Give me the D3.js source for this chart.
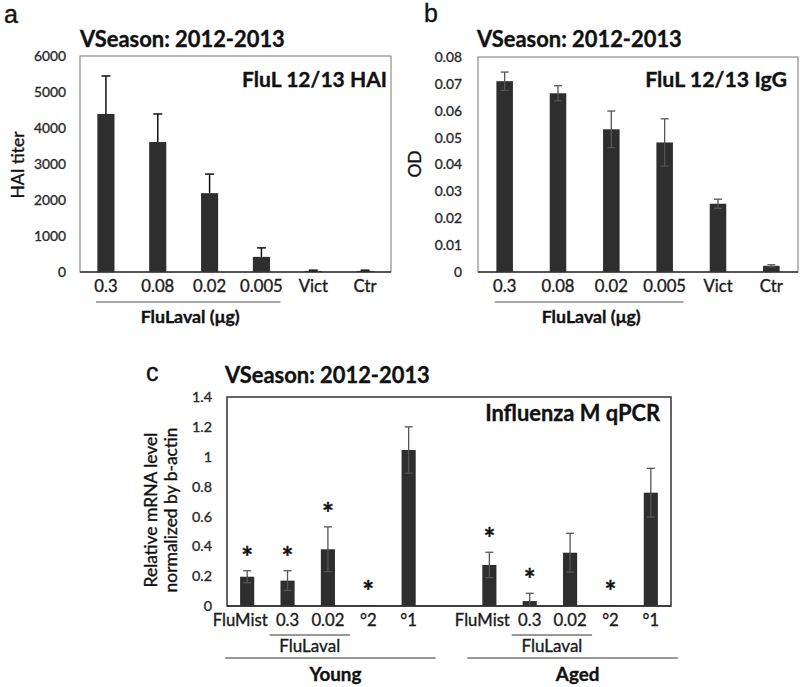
<!DOCTYPE html>
<html>
<head>
<meta charset="utf-8">
<script src="https://cdn.jsdelivr.net/npm/d3@7"></script>
<style>
  html, body { margin: 0; padding: 0; background: #fff; }
  svg { display: block; font-family: Lato, "Open Sans", sans-serif; }
</style>
</head>
<body>
<svg id="chart" width="800" height="687"></svg>
<script>
// ---------- DATA ----------
const seasonTitle = "VSeason: 2012-2013";
const doseCategories = ["0.3", "0.08", "0.02", "0.005", "Vict", "Ctr"];

// Panel a: HAI titer (mean, +SE only)
const haiValues = [4390, 3610, 2190, 420, 30, 30];
const haiErrors = [1055, 780, 530, 250, 20, 20];
const haiTicks = [0, 1000, 2000, 3000, 4000, 5000, 6000];
const haiTickLabels = ["0", "1000", "2000", "3000", "4000", "5000", "6000"];

// Panel b: IgG OD (mean ± SE)
const iggValues = [0.0710, 0.0665, 0.0531, 0.0482, 0.0254, 0.0023];
const iggErrors = [0.0034, 0.0028, 0.0068, 0.0088, 0.0017, 0.0004];
const iggTicks = [0, 0.01, 0.02, 0.03, 0.04, 0.05, 0.06, 0.07, 0.08];
const iggTickLabels = ["0", "0.01", "0.02", "0.03", "0.04", "0.05", "0.06", "0.07", "0.08"];

// Panel c: Influenza M qPCR (mean ± SE), young and aged groups separated by an empty slot
const qpcrCategories = ["Y-FluMist", "Y-0.3", "Y-0.02", "Y-2", "Y-1", "gap", "A-FluMist", "A-0.3", "A-0.02", "A-2", "A-1"];
const qpcrLabels = ["FluMist", "0.3", "0.02", "°2", "°1", "", "FluMist", "0.3", "0.02", "°2", "°1"];
const qpcrValues = [0.196, 0.170, 0.380, 0.005, 1.045, null, 0.275, 0.033, 0.357, 0.005, 0.759];
const qpcrErrors = [0.040, 0.066, 0.150, 0.000, 0.155, null, 0.085, 0.052, 0.130, 0.000, 0.163];
const qpcrSignificant = [true, true, true, true, false, false, true, true, false, true, false];
const qpcrTicks = [0, 0.2, 0.4, 0.6, 0.8, 1.0, 1.2, 1.4];
const qpcrTickLabels = ["0", "0.2", "0.4", "0.6", "0.8", "1", "1.2", "1.4"];

// ---------- DRAWING ----------
const svg = d3.select("#chart");
const BAR = "#2e2e2e";

// font size that makes a sample string reach a target width (reference is Calibri-like)
function fitSize(sample, weight, targetWidth) {
  const t = svg.append("text").attr("font-family", "Lato").attr("font-weight", weight)
    .attr("font-size", 100).text(sample);
  const w = t.node().getComputedTextLength();
  t.remove();
  return 100 * targetWidth / w;
}
const FS = {
  title: fitSize(seasonTitle, "bold", 205),
  innerA: fitSize("FluL 12/13 HAI", "bold", 145),
  innerB: fitSize("FluL 12/13 IgG", "bold", 142),
  innerC: fitSize("Influenza M qPCR", "bold", 175),
  yTitle: fitSize("HAI titer", "normal", 67),
  yTitleC: fitSize("normalized by b-actin", "normal", 165),
  yTickAB: fitSize("3000", "normal", 32),
  yTickC: fitSize("1.4", "normal", 20),
  xTick: fitSize("FluMist", "normal", 55),
  group: fitSize("FluLaval (μg)", "bold", 99),
  groupC: fitSize("Young", "bold", 52),
  subC: fitSize("FluLaval", "normal", 61)
};

function drawPanel(cfg) {
  const g = svg.append("g");
  const x = d3.scaleBand().domain(cfg.categories)
    .range([cfg.box.x0, cfg.box.x1])
    .paddingInner(cfg.pad).paddingOuter(cfg.pad / 2);
  const y = d3.scaleLinear().domain([cfg.ticks[0], cfg.ticks[cfg.ticks.length - 1]])
    .range([cfg.box.y1, cfg.box.y0]);

  // frame
  g.append("rect")
    .attr("x", cfg.box.x0).attr("y", cfg.box.y0)
    .attr("width", cfg.box.x1 - cfg.box.x0).attr("height", cfg.box.y1 - cfg.box.y0)
    .attr("fill", "none").attr("stroke", cfg.frameColor).attr("stroke-width", cfg.frameWidth);

  // y axis labels
  const yAxis = d3.axisLeft(y).tickValues(cfg.ticks)
    .tickFormat((d, i) => cfg.tickLabels[i]).tickSize(0).tickPadding(cfg.yPad);
  const ya = g.append("g").attr("transform", `translate(${cfg.box.x0},0)`).call(yAxis);
  ya.select(".domain").remove();
  ya.selectAll("text").attr("font-family", "Lato").attr("font-size", cfg.yFont).attr("fill", "#2a2a2a");

  // bars
  const data = cfg.categories.map((c, i) => ({ c, v: cfg.values[i], e: cfg.errors[i], i }))
    .filter(d => d.v !== null);
  g.selectAll(".bar").data(data).join("rect")
    .attr("x", d => x(d.c)).attr("width", x.bandwidth())
    .attr("y", d => y(d.v)).attr("height", d => y(0) - y(d.v))
    .attr("fill", BAR);

  // error bars
  const cap = cfg.capWidth / 2;
  const eg = g.selectAll(".err").data(data.filter(d => d.e > 0)).join("g")
    .attr("stroke", cfg.errColor).attr("stroke-width", cfg.errWidth).attr("fill", "none");
  eg.append("line")
    .attr("x1", d => x(d.c) + x.bandwidth() / 2).attr("x2", d => x(d.c) + x.bandwidth() / 2)
    .attr("y1", d => y(cfg.plusOnly ? d.v : Math.max(0, d.v - d.e))).attr("y2", d => y(d.v + d.e));
  eg.append("line")
    .attr("x1", d => x(d.c) + x.bandwidth() / 2 - cap).attr("x2", d => x(d.c) + x.bandwidth() / 2 + cap)
    .attr("y1", d => y(d.v + d.e)).attr("y2", d => y(d.v + d.e));
  if (!cfg.plusOnly) {
    eg.filter(d => d.v - d.e > 0).append("line")
      .attr("x1", d => x(d.c) + x.bandwidth() / 2 - cap).attr("x2", d => x(d.c) + x.bandwidth() / 2 + cap)
      .attr("y1", d => y(d.v - d.e)).attr("y2", d => y(d.v - d.e));
  }

  // bottom axis line
  g.append("line")
    .attr("x1", cfg.box.x0).attr("x2", cfg.box.x1)
    .attr("y1", cfg.box.y1).attr("y2", cfg.box.y1)
    .attr("stroke", "#333").attr("stroke-width", 1.5);

  // x labels
  const xAxis = d3.axisBottom(x).tickFormat((d, i) => cfg.xLabels[i]).tickSize(0).tickPadding(cfg.xPad);
  const xa = g.append("g").attr("transform", `translate(0,${cfg.box.y1})`).call(xAxis);
  xa.select(".domain").remove();
  xa.selectAll("text").attr("font-family", "Lato").attr("font-size", cfg.xFont).attr("fill", "#1a1a1a");

  // titles
  g.append("text").attr("x", cfg.title.x).attr("y", cfg.title.y)
    .attr("font-family", "Lato").attr("font-weight", "bold").attr("font-size", FS.title).attr("fill", "#111")
    .text(seasonTitle);
  g.append("text").attr("x", cfg.inner.x).attr("y", cfg.inner.y).attr("text-anchor", "end")
    .attr("font-family", "Lato").attr("font-weight", "bold").attr("font-size", cfg.inner.size).attr("fill", "#111")
    .text(cfg.inner.text);
  g.append("text").attr("x", cfg.letter.x).attr("y", cfg.letter.y)
    .attr("font-family", "Liberation Sans, Arial, sans-serif").attr("font-size", 25).attr("fill", "#111")
    .text(cfg.letter.text);

  // y title
  const yt = g.append("text")
    .attr("transform", `translate(${cfg.yTitle.x},${cfg.yTitle.y}) rotate(-90)`)
    .attr("text-anchor", "middle").attr("font-family", "Lato").attr("font-size", cfg.yTitle.size).attr("fill", "#111");
  cfg.yTitle.lines.forEach((t, i) => {
    yt.append("tspan").attr("x", 0).attr("dy", i === 0 ? 0 : cfg.yTitle.lh).text(t);
  });

  return { g, x, y, data, xa };
}

// Panel a
const pa = drawPanel({
  categories: doseCategories, xLabels: doseCategories,
  values: haiValues, errors: haiErrors, plusOnly: true,
  ticks: haiTicks, tickLabels: haiTickLabels,
  box: { x0: 80, x1: 391, y0: 56, y1: 272 }, pad: 0.67,
  frameColor: "#777", frameWidth: 1,
  errColor: "#111", errWidth: 1.5, capWidth: 9,
  yFont: FS.yTickAB, yPad: 14, xFont: FS.xTick, xPad: 8,
  title: { x: 80, y: 47 },
  inner: { x: 387, y: 87, size: FS.innerA, text: "FluL 12/13 HAI" },
  letter: { x: 4, y: 23, text: "a" },
  yTitle: { x: 24, y: 165, size: FS.yTitle, lh: 20, lines: ["HAI titer"] }
});

// Panel b
const pb = drawPanel({
  categories: doseCategories, xLabels: doseCategories,
  values: iggValues, errors: iggErrors, plusOnly: false,
  ticks: iggTicks, tickLabels: iggTickLabels,
  box: { x0: 478, x1: 798, y0: 57, y1: 272 }, pad: 0.69,
  frameColor: "#777", frameWidth: 1,
  errColor: "#555", errWidth: 1.3, capWidth: 8,
  yFont: FS.yTickAB, yPad: 16, xFont: FS.xTick, xPad: 8,
  title: { x: 477, y: 47 },
  inner: { x: 787, y: 87, size: FS.innerB, text: "FluL 12/13 IgG" },
  letter: { x: 424, y: 22, text: "b" },
  yTitle: { x: 421, y: 164, size: FS.yTitle, lh: 20, lines: ["OD"] }
});

// Panel c
const pc = drawPanel({
  categories: qpcrCategories, xLabels: qpcrLabels,
  values: qpcrValues, errors: qpcrErrors, plusOnly: false,
  ticks: qpcrTicks, tickLabels: qpcrTickLabels,
  box: { x0: 227, x1: 671, y0: 397, y1: 606 }, pad: 0.65,
  frameColor: "#333", frameWidth: 1.5,
  errColor: "#555", errWidth: 1.3, capWidth: 8,
  yFont: FS.yTickC, yPad: 15, xFont: FS.xTick, xPad: 8,
  title: { x: 225, y: 383 },
  inner: { x: 660, y: 421, size: FS.innerC, text: "Influenza M qPCR" },
  letter: { x: 146, y: 381, text: "c" },
  yTitle: { x: 157, y: 510, size: FS.yTitleC, lh: 20, lines: ["Relative mRNA level", "normalized by b-actin"] }
});
// FluMist labels sit slightly left of their bars in the reference
pc.xa.selectAll(".tick text").filter(function () { return this.textContent === "FluMist"; }).attr("dx", -7);

// FluLaval group underline + labels for a and b
function fluLavalGroup(p, first, last, lineY, labelY) {
  const x0 = p.x(first) + p.x.bandwidth() / 2 - 10;
  const x1 = p.x(last) + p.x.bandwidth() / 2 + 19;
  p.g.append("line").attr("x1", x0).attr("x2", x1).attr("y1", lineY).attr("y2", lineY)
    .attr("stroke", "#555").attr("stroke-width", 1.2);
  p.g.append("text").attr("x", (x0 + x1) / 2 + 2).attr("y", labelY).attr("text-anchor", "middle")
    .attr("font-family", "Lato").attr("font-weight", "bold").attr("font-size", FS.group).attr("fill", "#111")
    .text("FluLaval (μg)");
}
fluLavalGroup(pa, "0.3", "0.005", 302, 323);
fluLavalGroup(pb, "0.3", "0.005", 302, 323);

// Panel c significance asterisks
pc.g.selectAll(".star").data(pc.data.filter(d => qpcrSignificant[d.i])).join("text")
  .attr("x", d => pc.x(d.c) + pc.x.bandwidth() / 2)
  .attr("y", d => pc.y(d.v + d.e) - 4)
  .attr("text-anchor", "middle").attr("font-family", "Lato").attr("font-weight", "bold")
  .attr("font-size", 28).attr("fill", "#111").text("*");

// Panel c group annotations
function groupC(firstDose, lastDose, firstAll, lastAll, groupName) {
  const c = k => pc.x(k) + pc.x.bandwidth() / 2;
  const fx0 = c(firstDose) - 18, fx1 = c(lastDose) + 22;
  pc.g.append("line").attr("x1", fx0).attr("x2", fx1).attr("y1", 635).attr("y2", 635)
    .attr("stroke", "#333").attr("stroke-width", 1.2);
  pc.g.append("text").attr("x", (fx0 + fx1) / 2).attr("y", 652).attr("text-anchor", "middle")
    .attr("font-family", "Lato").attr("font-size", FS.subC).attr("fill", "#1a1a1a").text("FluLaval");
  const gx0 = c(firstAll) - 22, gx1 = c(lastAll) + 27;
  pc.g.append("line").attr("x1", gx0).attr("x2", gx1).attr("y1", 658).attr("y2", 658)
    .attr("stroke", "#333").attr("stroke-width", 1.2);
  pc.g.append("text").attr("x", (gx0 + gx1) / 2 + 5).attr("y", 681).attr("text-anchor", "middle")
    .attr("font-family", "Lato").attr("font-weight", "bold").attr("font-size", FS.groupC).attr("fill", "#111").text(groupName);
}
groupC("Y-0.3", "Y-0.02", "Y-FluMist", "Y-1", "Young");
groupC("A-0.3", "A-0.02", "A-FluMist", "A-1", "Aged");

// slightly heavier glyphs, like the reference's soft, dense rendering
svg.selectAll("text").each(function () {
  const el = d3.select(this);
  el.attr("stroke", el.attr("fill") || "#111").attr("stroke-width", 0.35).attr("paint-order", "stroke");
});
</script>
</body>
</html>
